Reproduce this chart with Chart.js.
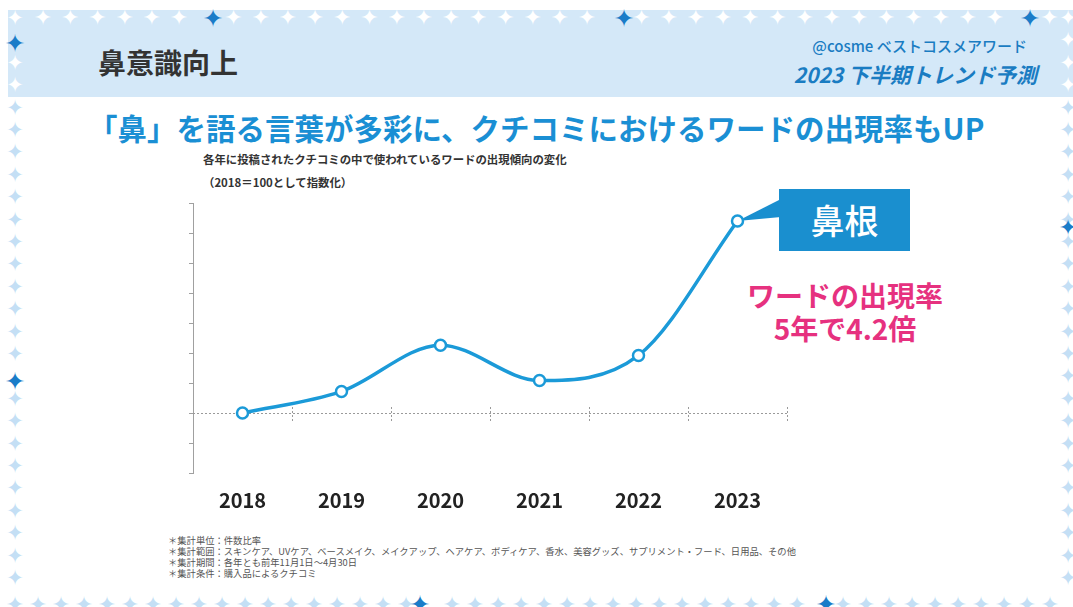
<!DOCTYPE html>
<html lang="ja">
<head>
<meta charset="utf-8">
<script src="https://cdn.jsdelivr.net/npm/chart.js@4.4.0/dist/chart.umd.min.js"></script>
<style>
  html, body { margin: 0; padding: 0; background: #fff; }
  #page { position: relative; width: 1073px; height: 607px; overflow: hidden; background: #fff;
    font-family: "Noto Sans CJK JP", "Noto Sans", sans-serif; }
  .abs { position: absolute; white-space: nowrap; line-height: 1; }
  #band { position: absolute; left: 8px; top: 10px; width: 1065px; height: 87px; background: #d4e8f8; }
  .star { position: absolute; font-family: "DejaVu Sans", sans-serif; line-height: 1;
    transform: translate(-50%, -50%); }
  #chart { position: absolute; left: 0; top: 0; z-index: 2; }
  #callout { position: absolute; left: 779px; top: 189px; width: 131px; height: 62px; background: #1a8fcf;
    color: #fff; font-size: 34px; font-weight: 500; text-align: center; line-height: 62px; z-index: 3; }
</style>
</head>
<body>
<div id="page">
  <div id="band"></div>
  <div id="stars"></div>
  <div class="abs" style="left:98px;top:48px;font-size:28px;font-weight:700;color:#333;">鼻意識向上</div>
  <div class="abs" style="right:46px;top:38px;font-size:15px;font-weight:500;color:#1a7cc2;">@cosme ベストコスメアワード</div>
  <div class="abs" style="right:36px;top:64px;font-size:21px;font-weight:700;font-style:italic;color:#1a7cc2;">2023 下半期トレンド予測</div>
  <div class="abs" style="left:88px;top:113px;font-size:29.5px;font-weight:700;color:#1a8fd4;">「鼻」を語る言葉が多彩に、クチコミにおけるワードの出現率もUP</div>
  <div class="abs" style="left:203px;top:154px;font-size:11.4px;font-weight:700;color:#333;">各年に投稿されたクチコミの中で使われているワードの出現傾向の変化</div>
  <div class="abs" style="left:203px;top:177px;font-size:11.4px;font-weight:700;color:#333;">（2018＝100として指数化）</div>
  <div class="abs" style="left:168px;top:535px;font-size:9.3px;line-height:11px;color:#555;">
    ＊集計単位：件数比率<br>
    ＊集計範囲：スキンケア、UVケア、ベースメイク、メイクアップ、ヘアケア、ボディケア、香水、美容グッズ、サプリメント・フード、日用品、その他<br>
    ＊集計期間：各年とも前年11月1日～4月30日<br>
    ＊集計条件：購入品によるクチコミ
  </div>
  <div id="callout">鼻根</div>
  <div class="abs" style="left:845px;top:281px;transform:translateX(-50%);font-size:28px;font-weight:700;color:#e6317f;">ワードの出現率</div>
  <div class="abs" style="left:845px;top:314px;transform:translateX(-50%);font-size:28px;font-weight:700;color:#e6317f;">5年で4.2倍</div>
  <canvas id="chart" width="1073" height="607"></canvas>
</div>
<script>
// data (2018 = 100)
const years = ["2018", "2019", "2020", "2021", "2022", "2023"];
const wordIndex = [100, 136, 213, 154, 196, 420];
const yMin = 0;
const yMax = 450;
const yStep = 50;
const baseValue = 100;

// star border (decoration)
const stars = document.getElementById("stars");
function star(x, y, color, size) {
  const s = document.createElement("div");
  s.className = "star";
  s.textContent = "✦";
  s.style.left = x + "px";
  s.style.top = y + "px";
  s.style.color = color;
  s.style.fontSize = size + "px";
  stars.appendChild(s);
}
const pale = "#c4dff5", accent = "#1a7cc8";
for (let x = 43; x < 1060; x += 27.2) {
  const blue = [213, 624, 1030].some(b => Math.abs(b - x) < 14);
  if (!blue) star(x, 18, "#fff", 22);
}
[213, 624, 1030].forEach(x => star(x, 18, accent, 25));
for (let y = 18; y < 600; y += 22.4) {
  const inBand = y < 97;
  if (Math.abs(y - 43) > 8 && Math.abs(y - 381) > 8) star(15, y, inBand ? "#fff" : pale, 21);
  if (Math.abs(y - 228) > 8) star(1068, y, inBand ? "#fff" : pale, 21);
}
star(15, 43, accent, 25);
star(15, 381, accent, 25);
star(1068, 228, accent, 22);
for (let x = 15; x < 1070; x += 23) {
  if (Math.abs(x - 420) > 10 && Math.abs(x - 826) > 10) star(x, 605, pale, 22);
}
star(420, 604, accent, 25);
star(826, 604, accent, 25);

// dashed base line at 100, short dashed ticks between years, callout wedge
const refLines = {
  id: "refLines",
  beforeDatasetsDraw(chart) {
    const { ctx, chartArea: a, scales: { x, y } } = chart;
    const yb = y.getPixelForValue(baseValue);
    const half = (x.getPixelForValue(1) - x.getPixelForValue(0)) / 2;
    ctx.save();
    ctx.strokeStyle = "#9a9a9a";
    ctx.lineWidth = 1;
    ctx.setLineDash([2, 2]);
    ctx.beginPath();
    ctx.moveTo(a.left, yb + 0.5);
    ctx.lineTo(a.right, yb + 0.5);
    for (let i = 0; i < years.length; i++) {
      const xt = Math.round(x.getPixelForValue(i) + half) + 0.5;
      ctx.moveTo(xt, yb - 6);
      ctx.lineTo(xt, yb + 8);
    }
    ctx.stroke();
    ctx.setLineDash([]);
    const p = chart.getDatasetMeta(0).data[years.length - 1];
    ctx.fillStyle = "#1a8fcf";
    ctx.beginPath();
    ctx.moveTo(p.x, p.y);
    ctx.lineTo(781, 199);
    ctx.lineTo(781, 217);
    ctx.closePath();
    ctx.fill();
    ctx.restore();
  }
};

new Chart(document.getElementById("chart"), {
  type: "line",
  data: {
    labels: years,
    datasets: [{
      data: wordIndex,
      borderColor: "#1b9ad8",
      borderWidth: 3.5,
      cubicInterpolationMode: "monotone",
      pointRadius: 5.5,
      pointBorderWidth: 2.5,
      pointBackgroundColor: "#fff",
      pointBorderColor: "#1b9ad8",
      clip: false
    }]
  },
  options: {
    responsive: false,
    animation: false,
    events: [],
    layout: { padding: { left: 183, top: 203, right: 286, bottom: 74 } },
    plugins: { legend: { display: false }, title: { display: false }, tooltip: { enabled: false } },
    scales: {
      x: {
        offset: true,
        grid: { display: false, drawTicks: false },
        border: { display: false },
        ticks: {
          color: "#222",
          padding: 15,
          font: { family: "'Noto Sans CJK JP', 'Noto Sans', sans-serif", size: 20, weight: "bold" }
        },
        afterFit: s => { s.height = 60; }
      },
      y: {
        min: yMin,
        max: yMax,
        ticks: { stepSize: yStep, display: false },
        grid: { drawOnChartArea: false, drawTicks: true, tickLength: 4, color: "#a0a0a0" },
        border: { color: "#a0a0a0", width: 1 },
        afterFit: s => { s.width = 10; }
      }
    }
  },
  plugins: [refLines]
});
</script>
</body>
</html>
